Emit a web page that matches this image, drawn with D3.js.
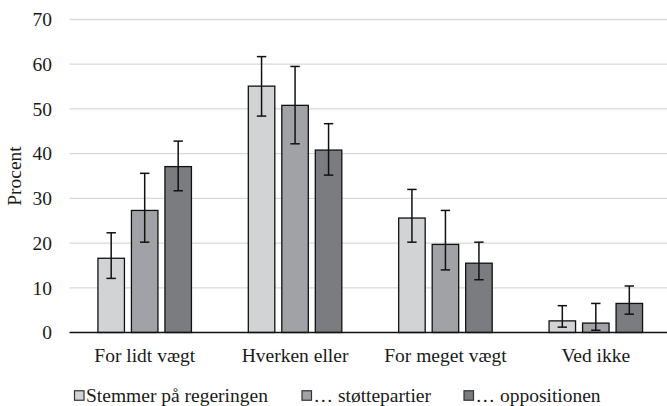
<!DOCTYPE html>
<html><head><meta charset="utf-8">
<script src="https://cdn.jsdelivr.net/npm/d3@7"></script>
<style>html,body{margin:0;padding:0;background:#fff;}svg{display:block;}
svg text{font-family:"Liberation Serif","Times New Roman",serif;font-size:19.5px;fill:#1a1a1a;}</style>
</head><body>
<svg id="chart" width="667" height="406"></svg>
<script>
const categories = ["For lidt vægt", "Hverken eller", "For meget vægt", "Ved ikke"];
const seriesNames = ["Stemmer på regeringen", "… støttepartier", "… oppositionen"];
const regeringen = [16.6, 55.1, 25.6, 2.6];
const regeringenLow = [12.1, 48.4, 20.2, 1.2];
const regeringenHigh = [22.3, 61.7, 32.0, 6.0];
const stoette = [27.3, 50.8, 19.7, 2.1];
const stoetteLow = [20.2, 42.2, 14.0, 0.5];
const stoetteHigh = [35.6, 59.5, 27.3, 6.5];
const opposition = [37.1, 40.8, 15.5, 6.5];
const oppositionLow = [31.7, 35.2, 11.8, 4.1];
const oppositionHigh = [42.8, 46.7, 20.2, 10.4];
const yTicks = [0, 10, 20, 30, 40, 50, 60, 70];
const yTitle = "Procent";

(function () {
const colors = ["#d2d3d5", "#a1a2a6", "#7b7c80"];
const series = [
  {name: seriesNames[0], v: regeringen, lo: regeringenLow, hi: regeringenHigh},
  {name: seriesNames[1], v: stoette, lo: stoetteLow, hi: stoetteHigh},
  {name: seriesNames[2], v: opposition, lo: oppositionLow, hi: oppositionHigh}
];

const svg = d3.select("#chart");
const pLeft = 69.5, pRight = 671, pTop = 19.5, pBottom = 332.5;

const y = d3.scaleLinear().domain([0, 70]).range([pBottom, pTop]);
const x0 = d3.scaleBand().domain(categories).range([pLeft, pRight]).padding(0);
const x1 = d3.scaleBand().domain(d3.range(3)).range([-46.75, 46.75]).paddingInner(0.209).paddingOuter(0);

// gridlines
svg.append("g").selectAll("line").data(yTicks.filter(t => t > 0)).join("line")
  .attr("x1", pLeft).attr("x2", 667)
  .attr("y1", d => y(d)).attr("y2", d => y(d))
  .attr("stroke", "#d9d9d9").attr("stroke-width", 1.3);

// y tick labels
svg.append("g").selectAll("text").data(yTicks).join("text")
  .attr("x", 52).attr("y", d => y(d)).attr("dy", "0.35em")
  .attr("text-anchor", "end")
  .text(d => d);

// y title
svg.append("text")
  .attr("transform", `translate(21,${(pTop + pBottom) / 2}) rotate(-90)`)
  .attr("text-anchor", "middle")
  .text(yTitle);

// bars
const groups = svg.append("g").selectAll("g").data(categories).join("g")
  .attr("transform", c => `translate(${x0(c) + x0.bandwidth() / 2},0)`);

series.forEach((s, si) => {
  groups.append("rect")
    .attr("x", x1(si))
    .attr("width", x1.bandwidth())
    .attr("y", (c, i) => y(s.v[i]))
    .attr("height", (c, i) => y(0) - y(s.v[i]))
    .attr("fill", colors[si])
    .attr("stroke", "#111").attr("stroke-width", 1.3);
});

// axis baseline
svg.append("line").attr("x1", pLeft).attr("x2", 667)
  .attr("y1", y(0)).attr("y2", y(0))
  .attr("stroke", "#111").attr("stroke-width", 1.4);

// error bars
series.forEach((s, si) => {
  const g = groups.append("g")
    .attr("transform", `translate(${x1(si) + x1.bandwidth() / 2},0)`)
    .attr("stroke", "#111").attr("stroke-width", 1.5);
  g.append("line").attr("x1", 0).attr("x2", 0)
    .attr("y1", (c, i) => y(s.lo[i])).attr("y2", (c, i) => y(s.hi[i]));
  g.append("line").attr("x1", -4.7).attr("x2", 4.7)
    .attr("y1", (c, i) => y(s.lo[i])).attr("y2", (c, i) => y(s.lo[i]));
  g.append("line").attr("x1", -4.7).attr("x2", 4.7)
    .attr("y1", (c, i) => y(s.hi[i])).attr("y2", (c, i) => y(s.hi[i]));
});

// category labels
svg.append("g").selectAll("text").data(categories).join("text")
  .attr("x", c => x0(c) + x0.bandwidth() / 2).attr("y", 362)
  .attr("text-anchor", "middle")
  .text(c => c);

// legend
const legendX = [74.5, 302, 464];
const lg = svg.append("g").selectAll("g").data(series).join("g")
  .attr("transform", (d, i) => `translate(${legendX[i]},395.5)`);
lg.append("rect").attr("x", 0).attr("y", -4.75).attr("width", 9.5).attr("height", 9.5)
  .attr("fill", (d, i) => colors[i]).attr("stroke", "#333").attr("stroke-width", 1.2);
lg.append("text").attr("x", 11.5).attr("y", 0).attr("dy", "0.35em")
  .text(d => d.name);
})();
</script>
</body></html>
